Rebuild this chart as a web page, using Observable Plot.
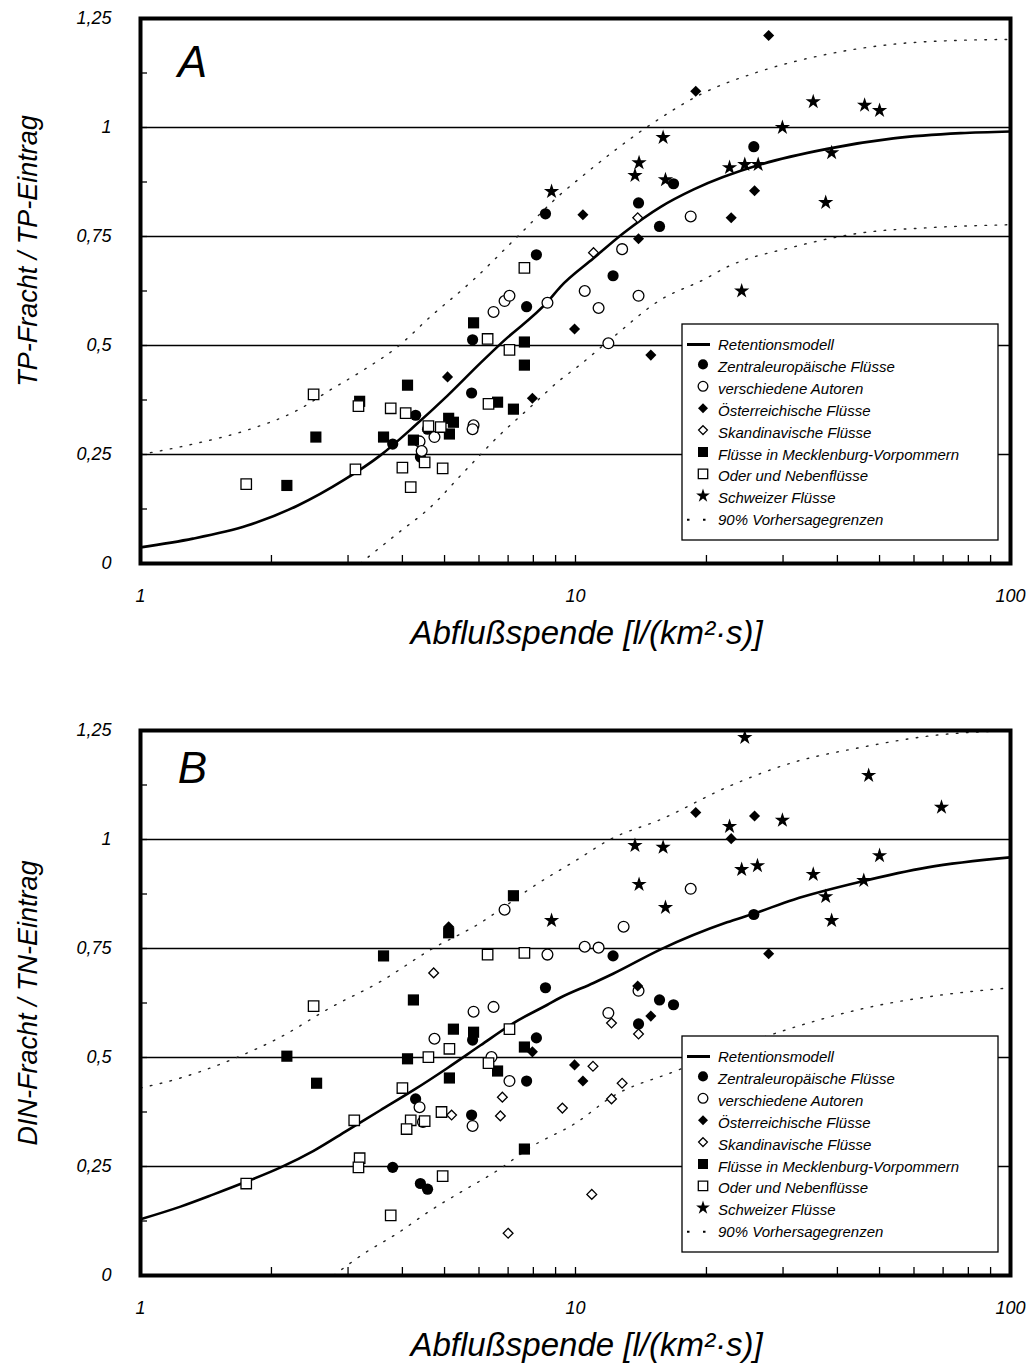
<!DOCTYPE html>
<html>
<head>
<meta charset="utf-8">
<script src="https://cdn.jsdelivr.net/npm/d3@7"></script>
<script src="https://cdn.jsdelivr.net/npm/@observablehq/plot@0.6"></script>
<style>
  body { margin: 0; background: #fff; }
  svg { display: block; }
</style>
</head>
<body>
<script>
// ---------- categories ----------
const groups = [
  "Zentraleuropäische Flüsse",
  "verschiedene Autoren",
  "Österreichische Flüsse",
  "Skandinavische Flüsse",
  "Flüsse in Mecklenburg-Vorpommern",
  "Oder und Nebenflüsse",
  "Schweizer Flüsse"
];
const legendModel = "Retentionsmodell";
const legendBand = "90% Vorhersagegrenzen";

// ---------- tick labels ----------
const yTickValues = [0, 0.25, 0.5, 0.75, 1, 1.25];
const yMinorTicks = [0.125, 0.25, 0.375, 0.5, 0.625, 0.75, 0.875, 1, 1.125];
const gridLines = [0.25, 0.5, 0.75, 1];
const xTickValues = [1, 10, 100];
const xMinorTicks = [2, 3, 4, 5, 6, 7, 8, 9, 10, 20, 30, 40, 50, 60, 70, 80, 90];

// ---------- Panel A : TP ----------
const A_zentral = [[8.53,0.802],[8.13,0.708],[25.7,0.956],[16.8,0.871],[13.96,0.827],[15.6,0.773],[12.2,0.66],[7.72,0.589],[5.80,0.513],[5.77,0.391],[4.29,0.34],[4.57,0.308],[3.80,0.274],[4.40,0.244]];
const A_autoren = [[18.4,0.796],[12.8,0.721],[10.5,0.625],[13.96,0.614],[11.3,0.586],[11.9,0.505],[6.48,0.577],[6.87,0.602],[7.05,0.614],[8.62,0.598],[5.83,0.317],[5.80,0.308],[4.74,0.29],[4.38,0.28],[4.43,0.258]];
const A_oesterreich = [[10.4,0.8],[27.8,1.211],[18.9,1.083],[25.8,0.855],[22.8,0.793],[13.96,0.745],[9.95,0.538],[14.9,0.478],[5.08,0.428],[7.96,0.379]];
const A_skandinav = [[13.9,0.793],[11.0,0.713]];
const A_mecklenburg = [[5.83,0.552],[7.63,0.508],[7.63,0.455],[3.19,0.372],[4.11,0.409],[6.62,0.37],[7.20,0.354],[5.11,0.333],[5.24,0.324],[5.13,0.297],[2.53,0.29],[3.62,0.29],[4.24,0.283],[2.17,0.179]];
const A_oder = [[7.63,0.678],[6.28,0.515],[7.05,0.49],[2.50,0.388],[3.17,0.361],[3.76,0.356],[4.07,0.345],[6.31,0.366],[4.59,0.315],[4.90,0.313],[4.50,0.232],[3.12,0.216],[4.00,0.22],[4.95,0.218],[4.18,0.175],[1.75,0.182]];
const A_schweiz = [[8.81,0.853],[35.2,1.059],[46.2,1.051],[50.0,1.039],[29.9,1.0],[15.9,0.977],[38.8,0.942],[14.0,0.919],[22.6,0.908],[24.5,0.915],[26.3,0.915],[13.7,0.89],[16.1,0.88],[37.6,0.828],[24.1,0.625]];
const A_model = [[1,0.037],[1.32,0.057],[1.76,0.087],[2.3,0.133],[2.93,0.191],[3.56,0.248],[4.24,0.313],[5.08,0.385],[6.05,0.46],[6.83,0.51],[8.62,0.6],[9.22,0.634],[11.0,0.70],[12.9,0.758],[15.7,0.818],[18.7,0.858],[26.6,0.915],[37.9,0.951],[53.8,0.975],[76.8,0.987],[100,0.991]];
const A_upper = [[1,0.25],[1.35,0.276],[1.76,0.306],[2.3,0.352],[2.73,0.398],[3.26,0.444],[3.9,0.497],[4.64,0.566],[5.83,0.651],[7.36,0.75],[9.22,0.846],[10.27,0.885],[14.9,1.007],[19.4,1.076],[26.6,1.129],[37.9,1.168],[53.8,1.191],[76.8,1.2],[100,1.202]];
const A_lower = [[3.2,0],[3.9,0.069],[4.64,0.129],[5.53,0.209],[6.62,0.29],[7.88,0.359],[9.22,0.421],[10.1,0.451],[12.0,0.513],[15.7,0.605],[19.7,0.651],[22.3,0.68],[31.7,0.726],[45.2,0.758],[64.5,0.77],[100,0.777]];

// ---------- Panel B : DIN ----------
const B_zentral = [[8.53,0.66],[12.2,0.733],[25.7,0.828],[15.6,0.632],[16.8,0.621],[13.96,0.577],[5.80,0.54],[8.13,0.545],[7.72,0.446],[4.29,0.405],[5.77,0.368],[3.80,0.248],[4.40,0.211],[4.57,0.198]];
const B_autoren = [[6.87,0.839],[8.62,0.736],[18.4,0.887],[12.9,0.80],[10.5,0.754],[11.3,0.752],[13.96,0.653],[11.9,0.602],[5.83,0.605],[6.48,0.616],[4.74,0.543],[6.41,0.501],[7.05,0.446],[4.38,0.386],[4.46,0.352],[5.80,0.343]];
const B_oesterreich = [[5.11,0.80],[18.9,1.062],[25.8,1.054],[22.8,1.002],[27.8,0.738],[13.9,0.664],[14.9,0.595],[7.96,0.513],[9.95,0.483],[10.4,0.446]];
const B_skandinav = [[4.72,0.694],[12.1,0.579],[13.96,0.554],[10.97,0.48],[12.8,0.441],[12.1,0.405],[9.33,0.384],[6.79,0.409],[6.72,0.366],[5.19,0.368],[7.0,0.097],[10.9,0.186]];
const B_mecklenburg = [[7.20,0.871],[5.11,0.786],[3.62,0.733],[4.24,0.632],[5.24,0.565],[5.83,0.558],[7.63,0.524],[2.17,0.503],[4.11,0.497],[6.62,0.469],[2.54,0.441],[5.13,0.453],[7.63,0.29]];
const B_oder = [[6.28,0.736],[7.63,0.74],[2.50,0.618],[7.05,0.565],[5.13,0.52],[4.59,0.501],[6.31,0.487],[4.00,0.43],[4.92,0.375],[3.10,0.356],[4.18,0.356],[4.50,0.354],[4.09,0.336],[3.19,0.269],[3.17,0.248],[4.95,0.228],[1.75,0.211],[3.76,0.138]];
const B_schweiz = [[8.81,0.814],[24.5,1.234],[47.2,1.147],[69.4,1.074],[29.9,1.044],[22.6,1.03],[13.7,0.986],[15.9,0.982],[50.0,0.963],[24.1,0.931],[26.2,0.94],[35.2,0.92],[46.0,0.906],[14.0,0.897],[37.6,0.869],[16.1,0.844],[38.8,0.814]];
const B_model = [[1,0.129],[1.236,0.158],[1.472,0.186],[1.76,0.216],[2.1,0.248],[2.5,0.286],[2.99,0.333],[3.56,0.379],[4.24,0.425],[5.08,0.476],[6.05,0.528],[7.2,0.579],[8.62,0.621],[9.22,0.637],[11.0,0.671],[12.2,0.692],[15.7,0.748],[22.3,0.81],[25.7,0.83],[31.7,0.862],[45.2,0.903],[64.5,0.936],[100,0.959]];
const B_upper = [[1,0.43],[1.236,0.453],[1.61,0.494],[2.1,0.547],[2.73,0.614],[3.56,0.674],[4.64,0.747],[6.05,0.809],[6.87,0.846],[7.88,0.888],[10.1,0.954],[12.0,1.0],[15.7,1.046],[22.3,1.12],[31.7,1.177],[45.2,1.211],[64.5,1.237],[100,1.25]];
const B_lower = [[2.78,0],[3.26,0.05],[3.9,0.097],[4.64,0.149],[5.53,0.195],[6.62,0.241],[7.88,0.294],[10.1,0.352],[12.0,0.407],[17.2,0.471],[22.3,0.517],[28.1,0.552],[47.7,0.616],[64.5,0.639],[100,0.66]];

// ---------- marker styles per group ----------
const styles = [
  {symbol: "circle",   fill: "black", stroke: "none",  r: 5.6},
  {symbol: "circle",   fill: "white", stroke: "black", r: 5.4},
  {symbol: "diamond2", fill: "black", stroke: "none",  r: 5.0},
  {symbol: "diamond2", fill: "white", stroke: "black", r: 4.4},
  {symbol: "square",   fill: "black", stroke: "none",  r: 6.3},
  {symbol: "square",   fill: "white", stroke: "black", r: 5.9},
  {symbol: "star",     fill: "black", stroke: "none",  r: 4.8}
];

const FONT = "'Liberation Sans', Arial, Helvetica, sans-serif";
const fmtY = d => String(d).replace(".", ",");
const px = d => d[0], py = d => d[1];

function addLegend(svg, top) {
  const g = d3.select(svg).append("g")
    .attr("font-family", FONT).attr("font-style", "italic").attr("font-size", 15)
    .attr("fill", "black").attr("text-anchor", "start");
  g.append("rect").attr("x", 682).attr("y", top).attr("width", 316).attr("height", 216)
    .attr("fill", "white").attr("stroke", "black").attr("stroke-width", 1.3);
  const x0 = 703, tx = 718, step = 21.9, y0 = top + 21.5;
  const labels = [legendModel, ...groups, legendBand];
  labels.forEach((lab, i) => {
    const y = y0 + i * step;
    if (i === 0) {
      g.append("line").attr("x1", 687).attr("x2", 710).attr("y1", y - 1).attr("y2", y - 1)
        .attr("stroke", "black").attr("stroke-width", 3);
    } else if (i === labels.length - 1) {
      g.append("line").attr("x1", 687).attr("x2", 707).attr("y1", y - 1).attr("y2", y - 1)
        .attr("stroke", "black").attr("stroke-width", 2).attr("stroke-dasharray", "2.5,13.5");
    } else {
      const s = styles[i - 1];
      const type = {circle: d3.symbolCircle, diamond2: d3.symbolDiamond2, square: d3.symbolSquare, star: d3.symbolStar}[s.symbol];
      const r = s.r * 0.9;
      g.append("path").attr("transform", `translate(${x0},${y - 3})`)
        .attr("d", d3.symbol(type, Math.PI * r * r)())
        .attr("fill", s.fill).attr("stroke", s.stroke === "none" ? null : s.stroke).attr("stroke-width", 1.3);
    }
    g.append("text").attr("x", tx).attr("y", y).attr("dy", "0.3em").attr("text-anchor", "start").text(lab);
  });
}

function panel(cfg) {
  const marks = [
    Plot.ruleY(gridLines, {strokeWidth: 1.4}),
    Plot.axisY(yMinorTicks, {tickSize: -7, tickFormat: () => "", strokeWidth: 1.3, label: null}),
    Plot.axisX(xMinorTicks, {tickSize: -8, tickFormat: () => "", strokeWidth: 1.3, label: null}),
    Plot.axisY(yTickValues, {tickSize: 0, tickPadding: 29, tickFormat: fmtY, fontSize: 18, label: null}),
    Plot.axisX(xTickValues, {tickSize: 0, tickPadding: 26, tickFormat: d => String(d), fontSize: 18, label: null}),
    Plot.line(cfg.upper, {x: px, y: py, stroke: "#222", strokeWidth: 1.4, strokeDasharray: "1.6,8.5", curve: "monotone-x", clip: true}),
    Plot.line(cfg.lower, {x: px, y: py, stroke: "#222", strokeWidth: 1.4, strokeDasharray: "1.6,8.5", curve: "monotone-x", clip: true}),
    Plot.line(cfg.model, {x: px, y: py, stroke: "black", strokeWidth: 2.6, curve: "monotone-x", clip: true}),
    ...cfg.series.map((data, i) => Plot.dot(data, {
      x: px, y: py, symbol: styles[i].symbol, r: styles[i].r,
      fill: styles[i].fill, stroke: styles[i].stroke, strokeWidth: 1.3
    })),
    Plot.text([cfg.letter], {frameAnchor: "top-left", dx: 52, dy: cfg.letterDy, fontSize: 44, textAnchor: "middle", lineAnchor: "middle"}),
    Plot.text([cfg.ytitle], {frameAnchor: "left", dx: -112, dy: cfg.ytitleDy, rotate: -90, fontSize: 27, textAnchor: "middle", lineAnchor: "middle"}),
    Plot.text([cfg.xtitle], {frameAnchor: "bottom", dx: 11, dy: 70, fontSize: 33, textAnchor: "middle", lineAnchor: "middle"}),
    Plot.frame({strokeWidth: 4})
  ];
  const svg = Plot.plot({
    width: 1028,
    height: cfg.height,
    marginLeft: 140,
    marginRight: 18,
    marginTop: 18,
    marginBottom: cfg.height - 18 - 545,
    x: {type: "log", domain: [1, 100]},
    y: {domain: [0, 1.25]},
    style: {fontFamily: FONT, fontStyle: "italic", background: "white", color: "black", overflow: "visible"},
    marks
  });
  addLegend(svg, 324);
  document.body.appendChild(svg);
}

panel({
  height: 712, letter: "A", letterDy: 44, ytitleDy: -40,
  ytitle: "TP-Fracht / TP-Eintrag", xtitle: "Abflußspende [l/(km²·s)]",
  series: [A_zentral, A_autoren, A_oesterreich, A_skandinav, A_mecklenburg, A_oder, A_schweiz],
  model: A_model, upper: A_upper, lower: A_lower
});
panel({
  height: 652, letter: "B", letterDy: 38, ytitleDy: 0,
  ytitle: "DIN-Fracht / TN-Eintrag", xtitle: "Abflußspende [l/(km²·s)]",
  series: [B_zentral, B_autoren, B_oesterreich, B_skandinav, B_mecklenburg, B_oder, B_schweiz],
  model: B_model, upper: B_upper, lower: B_lower
});
</script>
</body>
</html>
